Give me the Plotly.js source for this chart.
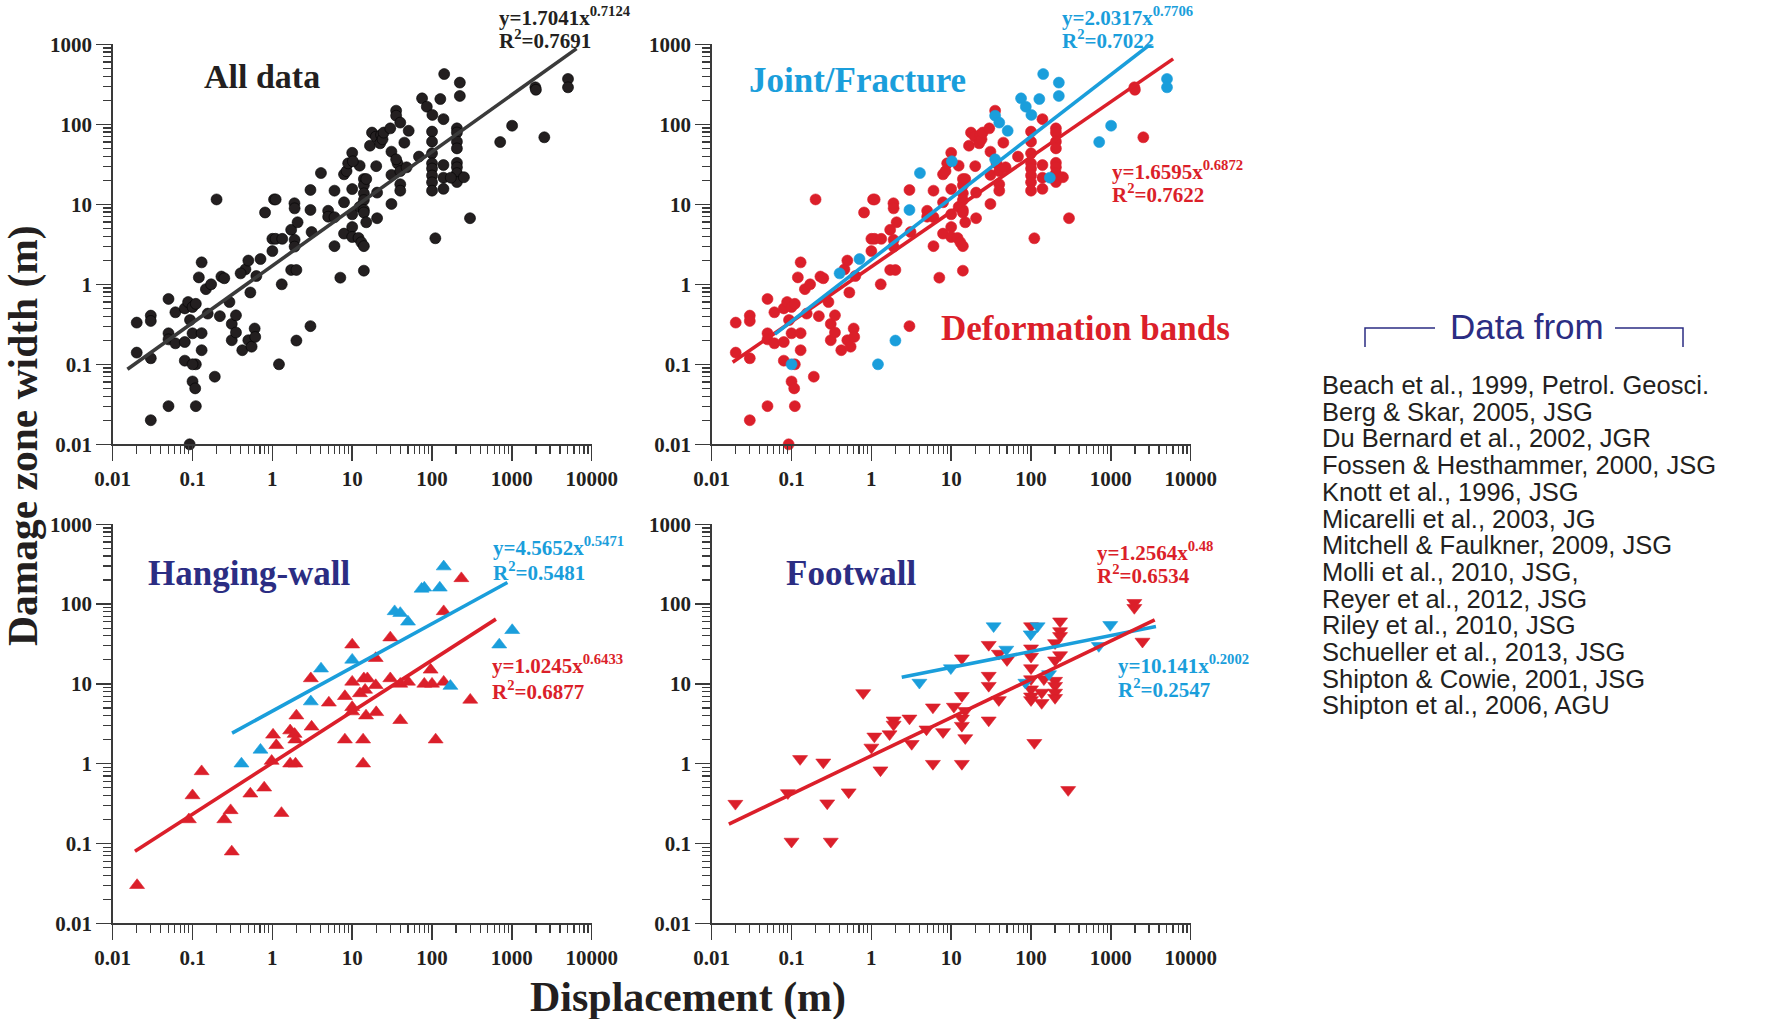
<!DOCTYPE html>
<html>
<head>
<meta charset="utf-8">
<script src="https://cdn.plot.ly/plotly-3.0.1.min.js"></script>
<style>html,body{margin:0;padding:0;background:#fff;}#chart{width:1774px;height:1019px;}</style>
</head>
<body>
<div id="chart"></div>
<script>
// ---------------- DATA ----------------
// Joint / Fracture (all data, top panels)
const jointX = [142, 223, 223, 5050, 5050, 75, 127, 86, 101, 35.5, 40, 51, 1007, 714, 35.5, 172, 10.2, 4.06, 3.0, 0.71, 0.40, 2.0, 1.21, 0.1];
const jointY = [425, 332, 226, 369, 290, 211, 207, 166, 131, 128, 105, 83, 96, 60, 36.5, 21.5, 34.5, 24.6, 8.5, 2.07, 1.37, 0.198, 0.1, 0.1];

// Deformation bands (all data, top panels)
const bandX = [0.020, 0.020, 0.030, 0.030, 0.030, 0.030, 0.050, 0.050, 0.050, 0.050,
  0.061, 0.061, 0.080, 0.080, 0.080, 0.088, 0.092, 0.100, 0.100, 0.110,
  0.100, 0.108, 0.110, 0.110, 0.093, 0.130, 0.130, 0.130, 0.120, 0.147,
  0.171, 0.155, 0.190, 0.200, 0.220, 0.230, 0.250, 0.290, 0.310, 0.310,
  0.350, 0.350, 0.420, 0.460, 0.500, 0.530, 0.500, 0.550, 0.600, 0.610,
  0.630, 0.810, 1.00, 1.05, 1.10, 1.00, 1.10, 1.33, 1.31, 1.72,
  1.89, 1.90, 1.90, 1.90, 1.72, 2.00, 2.07, 3.00, 3.10, 3.00,
  5.0, 5.0, 6.0, 6.0, 6.0, 7.1, 7.9, 7.9, 7.9, 8.5,
  8.9, 10, 10, 10, 10, 10, 12.4, 12.4, 12, 13,
  14, 14, 14, 14, 14, 14, 14, 14, 15, 15,
  16.7, 17.7, 19.8, 20, 20.5, 20.5, 22.4, 23, 24, 24.8,
  30, 31, 31, 31, 35.5, 37, 40, 40, 40, 45,
  48, 68.6, 100, 100, 100, 100, 100, 100, 100, 100,
  139, 139, 139, 139, 205, 205, 205, 205, 205, 205,
  205, 205, 251, 299, 110, 1968, 2000, 2550];
const bandY = [0.332, 0.14, 0.406, 0.348, 0.119, 0.020, 0.656, 0.244, 0.205, 0.030,
  0.447, 0.183, 0.50, 0.19, 0.111, 0.60, 0.010, 0.52, 0.244, 0.100,
  0.061, 0.050, 0.030, 0.57, 0.358, 0.245, 0.150, 1.88, 1.22, 0.87,
  1.00, 0.43, 0.070, 11.5, 0.40, 1.25, 1.19, 0.60, 0.32, 0.20,
  0.41, 0.25, 0.15, 1.54, 1.98, 0.79, 0.20, 0.166, 0.28, 0.22,
  1.27, 7.9, 2.6, 11.5, 11.5, 3.7, 3.7, 3.7, 1.0, 4.8,
  10.3, 8.9, 3.6, 2.96, 1.51, 1.51, 5.96, 15.1, 4.5, 0.30,
  8.3, 7.0, 14.8, 3.0, 6.9, 1.21, 4.3, 10.6, 23.7, 26,
  32.5, 44, 15.5, 7.5, 5.2, 3.9, 30.4, 9.3, 3.8, 3.35,
  20.7, 17.3, 13.7, 11.3, 8.5, 7.9, 3.0, 1.48, 20.7, 5.96,
  54, 78.8, 70, 30, 14, 6.7, 57.9, 73.6, 65, 78.8,
  89, 45.5, 23.3, 10.1, 148, 32.5, 26, 17.8, 14.8, 59,
  29, 39.5, 81, 60.7, 43.4, 32.5, 28, 22.9, 18.8, 14.8,
  116, 31, 21.5, 15.6, 89, 79, 60.7, 50, 33, 29,
  24.5, 19, 21.8, 6.7, 3.76, 290, 270, 68.8];

// Hanging-wall
const hwJointX = [140, 74, 80, 125, 34, 40, 50, 1010, 695, 170, 10, 4.07, 3.03, 0.71, 0.41];
const hwJointY = [295, 155, 160, 160, 81, 77, 60, 47, 31, 9.4, 20, 15.5, 6.0, 1.49, 1.0];
const hwBandX = [233, 140, 30, 10, 19.7, 3.03, 10, 14, 15.5, 30, 12.5, 14.5, 19.7, 40, 50, 96, 80, 100, 140, 301,
  40, 111, 8.1, 5.1, 10, 10, 14.9, 20, 2.0, 3.1, 1.67, 1.9, 1.94, 1.02, 1.12, 8.1, 13.7, 13.7, 1.67, 1.95,
  0.98, 0.13, 0.1, 0.79, 0.53, 0.30, 0.25, 0.09, 1.3, 0.31, 0.0202];
const hwBandY = [210, 81, 38, 31, 21, 11.7, 10.6, 11.7, 11.7, 11.7, 7.6, 8.4, 9.6, 10, 10.6, 15, 10, 10, 10.6, 6.3,
  3.5, 2.0, 7.0, 5.8, 5.1, 4.5, 4.0, 4.4, 4.0, 2.9, 2.6, 2.35, 2.0, 2.3, 1.7, 2.0, 2.0, 1.0, 1.0, 1.0,
  1.08, 0.80, 0.40, 0.50, 0.42, 0.26, 0.20, 0.20, 0.24, 0.079, 0.030];

// Footwall
const fwJointX = [34, 121, 99, 982, 706, 49, 9.9, 4.0, 85, 168];
const fwJointY = [53, 53, 42, 55, 30, 27, 15.8, 10.4, 10.4, 13.3];
const fwBandX = [1968, 1968, 2490, 231, 231, 231, 200, 231, 200, 200, 200, 200, 200, 100, 100, 100, 100, 100, 100, 100,
  100, 136, 145, 136, 110, 292, 29.5, 29.5, 29.5, 39.5, 29.5, 39.5, 50, 13.6, 13.6, 13.6, 13.6, 15, 13.6, 10.8,
  15, 5.9, 5.9, 7.9, 4.9, 3.0, 3.2, 1.9, 1.9, 1.69, 1.09, 1.0, 1.3, 0.79, 0.128, 0.25, 0.52, 0.28, 0.09, 0.0198,
  0.1, 0.31];
const fwBandY = [104, 90, 34, 61, 46, 40, 32.6, 23, 19.8, 11, 9.5, 7.8, 6.7, 53, 28, 22, 15.8, 11.5, 8.6, 7.0,
  6.3, 7.8, 11.5, 5.8, 1.83, 0.47, 31, 12.7, 9.5, 6.3, 3.5, 24, 20, 21, 7.1, 3.7, 3.0, 2.1, 1.0, 5.2,
  4.6, 5.1, 1.0, 2.5, 2.7, 3.7, 1.78, 3.5, 3.1, 2.35, 2.2, 1.6, 0.83, 7.7, 1.15, 1.04, 0.44, 0.32, 0.43, 0.316,
  0.106, 0.106];

// Power-law fits [a, b] in y = a x^b, and the x-span each fitted line covers
const fitAll = [1.7041, 0.7124],     fitAllSpan = [0.0153, 6460];
const fitJoint = [2.0317, 0.7706],   fitJointSpan = [0.062, 3340];
const fitBand = [1.6595, 0.6872],    fitBandSpan = [0.0183, 6030];
const fitHwJoint = [4.5652, 0.5471], fitHwJointSpan = [0.313, 880];
const fitHwBand = [1.0245, 0.6433],  fitHwBandSpan = [0.019, 631];
const fitFwBand = [1.2564, 0.48],    fitFwBandSpan = [0.0164, 3540];
const fitFwJoint = [10.141, 0.2002], fitFwJointSpan = [2.4, 3670];

// Tick labels
const xTickVals = [0.01, 0.1, 1, 10, 100, 1000, 10000];
const xTickText = ['0.01', '0.1', '1', '10', '100', '1000', '10000'];
const yTickVals = [0.01, 0.1, 1, 10, 100, 1000];
const yTickText = ['0.01', '0.1', '1', '10', '100', '1000'];

const references = [
  'Beach et al., 1999, Petrol. Geosci.',
  'Berg & Skar, 2005, JSG',
  'Du Bernard et al., 2002, JGR',
  'Fossen & Hesthammer, 2000, JSG',
  'Knott et al., 1996, JSG',
  'Micarelli et al., 2003, JG',
  'Mitchell & Faulkner, 2009, JSG',
  'Molli et al., 2010, JSG,',
  'Reyer et al., 2012, JSG',
  'Riley et al., 2010, JSG',
  'Schueller et al., 2013, JSG',
  'Shipton & Cowie, 2001, JSG',
  'Shipton et al., 2006, AGU'
];

// ---------------- STYLE ----------------
const W = 1774, H = 1019;
const fx = x => x / W;
const fy = y => 1 - y / H;
const SERIF = '"Liberation Serif", "Times New Roman", serif';
const SANS = '"Liberation Sans", Arial, sans-serif';
const BLUE = '#1a9edb';
const RED = '#db1f2a';
const NAVY = '#2b2d83';
const BLACK = '#231f20';
const AX = '#3a3a3a';

function minorVals(lo, hi) {
  const v = [];
  for (let e = lo; e < hi; e++) for (let d = 2; d <= 9; d++) v.push(d * Math.pow(10, e));
  return v;
}

function xAxis(domain, anchor) {
  return {
    type: 'log', range: [-2, 4], domain: domain, anchor: anchor,
    showgrid: false, zeroline: false, showline: true, linecolor: AX, linewidth: 1.5,
    ticks: 'outside', ticklen: 15, tickwidth: 1.5, tickcolor: AX,
    tickmode: 'array', tickvals: xTickVals, ticktext: xTickText,
    tickfont: {family: SERIF, size: 21, color: BLACK, weight: 'bold'},
    minor: {ticks: 'outside', ticklen: 8, tickwidth: 1.2, tickcolor: AX, tickmode: 'array', tickvals: minorVals(-2, 4), showgrid: false},
    fixedrange: true
  };
}
function yAxis(domain, anchor) {
  return {
    type: 'log', range: [-2, 3], domain: domain, anchor: anchor,
    showgrid: false, zeroline: false, showline: true, linecolor: AX, linewidth: 1.5,
    ticks: 'outside', ticklen: 15, tickwidth: 1.5, tickcolor: AX,
    tickmode: 'array', tickvals: yTickVals, ticktext: yTickText,
    tickfont: {family: SERIF, size: 21, color: BLACK, weight: 'bold'},
    minor: {ticks: 'outside', ticklen: 8, tickwidth: 1.2, tickcolor: AX, tickmode: 'array', tickvals: minorVals(-2, 3), showgrid: false},
    fixedrange: true
  };
}

function pts(x, y, xa, ya, color, symbol, size) {
  return {x: x, y: y, xaxis: xa, yaxis: ya, type: 'scatter', mode: 'markers', cliponaxis: false,
    marker: {color: color, symbol: symbol, size: size, line: {width: 0.6, color: color === BLACK ? '#000' : color}},
    hoverinfo: 'skip'};
}
function fit(params, span, xa, ya, color) {
  const [a, b] = params;
  return {x: span, y: span.map(v => a * Math.pow(v, b)), xaxis: xa, yaxis: ya, type: 'scatter', mode: 'lines',
    line: {color: color, width: 3.6}, hoverinfo: 'skip', cliponaxis: false};
}

const traces = [
  pts(bandX.concat(jointX), bandY.concat(jointY), 'x', 'y', BLACK, 'circle', 11),
  fit(fitAll, fitAllSpan, 'x', 'y', AX),

  pts(bandX, bandY, 'x2', 'y2', RED, 'circle', 11),
  pts(jointX, jointY, 'x2', 'y2', BLUE, 'circle', 11),
  fit(fitBand, fitBandSpan, 'x2', 'y2', RED),
  fit(fitJoint, fitJointSpan, 'x2', 'y2', BLUE),

  pts(hwBandX, hwBandY, 'x3', 'y3', RED, 'triangle-up', 13),
  pts(hwJointX, hwJointY, 'x3', 'y3', BLUE, 'triangle-up', 13),
  fit(fitHwBand, fitHwBandSpan, 'x3', 'y3', RED),
  fit(fitHwJoint, fitHwJointSpan, 'x3', 'y3', BLUE),

  pts(fwBandX, fwBandY, 'x4', 'y4', RED, 'triangle-down', 13),
  pts(fwJointX, fwJointY, 'x4', 'y4', BLUE, 'triangle-down', 13),
  fit(fitFwJoint, fitFwJointSpan, 'x4', 'y4', BLUE),
  fit(fitFwBand, fitFwBandSpan, 'x4', 'y4', RED)
];

// panel geometry in pixels
const leftX = [fx(112.7), fx(591.7)], rightX = [fx(711.7), fx(1190.7)];
const topY = [fy(444.3), fy(44.3)], botY = [fy(923.3), fy(524.3)];

function txt(text, x, y, size, color, opts) {
  return Object.assign({text: text, xref: 'paper', yref: 'paper', x: fx(x), y: fy(y), showarrow: false,
    xanchor: 'left', yanchor: 'middle', font: {family: SERIF, size: size, color: color, weight: 'bold'}}, opts || {});
}
function eq(params) { return 'y=' + params[0] + 'x<sup>' + params[1] + '</sup>'; }

const EQ = 21;
const annotations = [
  txt(eq(fitAll), 497, 17, EQ, BLACK), txt('R<sup>2</sup>=0.7691', 497, 39, EQ, BLACK),
  txt(eq(fitJoint), 1060, 17, EQ, BLUE), txt('R<sup>2</sup>=0.7022', 1060, 39, EQ, BLUE),
  txt(eq(fitBand), 1110, 170, EQ, RED), txt('R<sup>2</sup>=0.7622', 1110, 193, EQ, RED),
  txt(eq(fitHwJoint), 491, 546, EQ, BLUE), txt('R<sup>2</sup>=0.5481', 491, 571, EQ, BLUE),
  txt(eq(fitHwBand), 490, 664, EQ, RED), txt('R<sup>2</sup>=0.6877', 490, 690, EQ, RED),
  txt(eq(fitFwBand), 1095, 551, EQ, RED), txt('R<sup>2</sup>=0.6534', 1095, 574, EQ, RED),
  txt(eq(fitFwJoint), 1116, 664, EQ, BLUE), txt('R<sup>2</sup>=0.2547', 1116, 688, EQ, BLUE),

  txt('All data', 262, 77, 34, BLACK, {xanchor: 'center'}),
  txt('Joint/Fracture', 857, 81, 35, BLUE, {xanchor: 'center'}),
  txt('Deformation bands', 1085, 328, 35, RED, {xanchor: 'center'}),
  txt('Hanging-wall', 249, 573, 35, NAVY, {xanchor: 'center'}),
  txt('Footwall', 851, 573, 35, NAVY, {xanchor: 'center'}),

  txt('Damage zone width (m)', 23, 436, 41.5, BLACK, {xanchor: 'center', textangle: -90}),
  txt('Displacement (m)', 688, 997, 42, BLACK, {xanchor: 'center'}),

  {text: 'Data from', xref: 'paper', yref: 'paper', x: fx(1527), y: fy(327), showarrow: false,
   xanchor: 'center', yanchor: 'middle', font: {family: SANS, size: 35, color: NAVY}}
];
references.forEach((r, i) => {
  annotations.push({text: r, xref: 'paper', yref: 'paper', x: fx(1320), y: fy(385 + i * 26.7), showarrow: false,
    xanchor: 'left', yanchor: 'middle', font: {family: SANS, size: 25.5, color: BLACK}});
});

const shapes = [
  {type: 'path', xref: 'paper', yref: 'paper',
   path: `M ${fx(1365)} ${fy(347)} L ${fx(1365)} ${fy(328)} L ${fx(1435)} ${fy(328)}`,
   line: {color: NAVY, width: 1.5}},
  {type: 'path', xref: 'paper', yref: 'paper',
   path: `M ${fx(1615)} ${fy(328)} L ${fx(1683)} ${fy(328)} L ${fx(1683)} ${fy(347)}`,
   line: {color: NAVY, width: 1.5}}
];

const layout = {
  width: W, height: H, margin: {l: 0, r: 0, t: 0, b: 0},
  paper_bgcolor: '#fff', plot_bgcolor: 'rgba(0,0,0,0)',
  showlegend: false, hovermode: false,
  xaxis: xAxis(leftX, 'y'), yaxis: yAxis(topY, 'x'),
  xaxis2: xAxis(rightX, 'y2'), yaxis2: yAxis(topY, 'x2'),
  xaxis3: xAxis(leftX, 'y3'), yaxis3: yAxis(botY, 'x3'),
  xaxis4: xAxis(rightX, 'y4'), yaxis4: yAxis(botY, 'x4'),
  annotations: annotations, shapes: shapes
};

Plotly.newPlot('chart', traces, layout, {staticPlot: true, displayModeBar: false});
</script>
</body>
</html>
